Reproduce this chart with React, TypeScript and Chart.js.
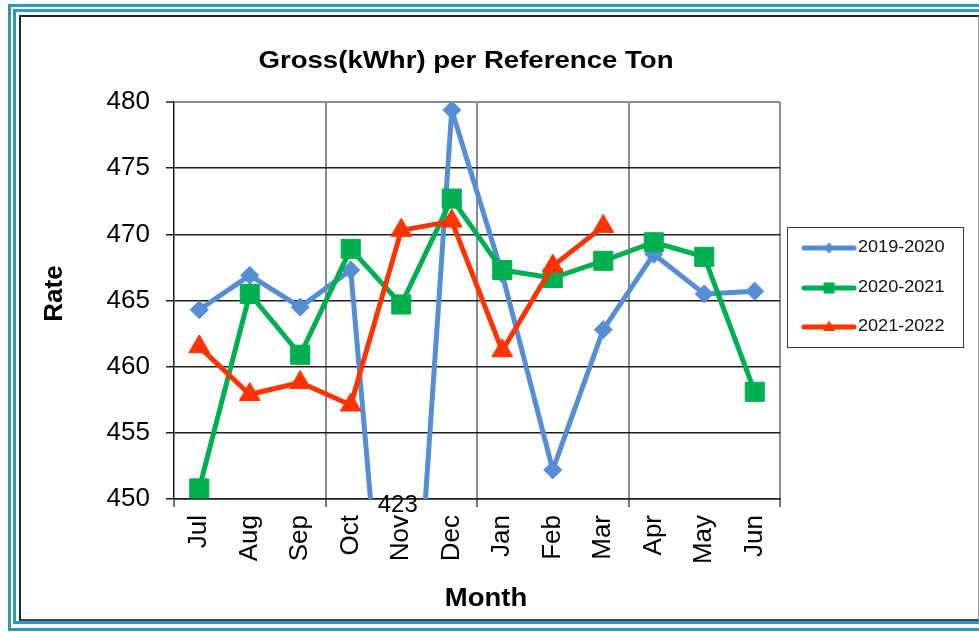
import React, { useEffect, useRef } from 'react';
import { Chart, registerables } from 'chart.js';

Chart.register(...registerables);

// ---------- data ----------
const months = ['Jul', 'Aug', 'Sep', 'Oct', 'Nov', 'Dec', 'Jan', 'Feb', 'Mar', 'Apr', 'May', 'Jun'];
const series2019 = [464.3, 466.9, 464.5, 467.3, 423, 479.4, 467.0, 452.2, 462.8, 468.5, 465.5, 465.7];
const series2020 = [450.8, 465.5, 460.9, 468.9, 464.7, 472.7, 467.3, 466.7, 468.0, 469.4, 468.3, 458.1];
const series2021 = [461.5, 457.9, 458.8, 457.1, 470.3, 471.0, 461.2, 467.6, 470.6, null, null, null];
const seriesNames = ['2019-2020', '2020-2021', '2021-2022'];
const yTicks = [450, 455, 460, 465, 470, 475, 480];
const chartTitle = 'Gross(kWhr) per Reference Ton';
const xTitle = 'Month';
const yTitle = 'Rate';

// ---------- styles ----------
const FONT = "'Liberation Sans', Arial, Helvetica, sans-serif";
const BLUE = '#558ED5';
const GREEN = '#00B050';
const RED = '#FF3300';
const TEAL = '#3097B8';
const DARK = '#1e1e1e';
const GRAY = '#8c8c8c';

const colors = [BLUE, GREEN, RED];
const styles = ['rectRot', 'rect', 'triangle'];

function drawText(ctx: CanvasRenderingContext2D, text: string, x: number, y: number, font: string,
  align: CanvasTextAlign, baseline: CanvasTextBaseline, sx = 1, rot = 0, color = '#000') {
  ctx.save();
  ctx.translate(x, y);
  if (rot) ctx.rotate(rot);
  ctx.scale(sx, 1);
  ctx.font = font;
  ctx.fillStyle = color;
  ctx.textAlign = align;
  ctx.textBaseline = baseline;
  ctx.fillText(text, 0, 0);
  ctx.restore();
}

function drawMarker(ctx: CanvasRenderingContext2D, style: string, x: number, y: number, color: string) {
  ctx.save();
  ctx.fillStyle = color;
  ctx.beginPath();
  if (style === 'rectRot') {
    ctx.moveTo(x - 5, y);
    ctx.lineTo(x, y - 5.5);
    ctx.lineTo(x + 5, y);
    ctx.lineTo(x, y + 5.5);
  } else if (style === 'rect') {
    ctx.rect(x - 5.5, y - 5.5, 11, 11);
  } else {
    ctx.moveTo(x, y - 6.5);
    ctx.lineTo(x + 6, y + 4);
    ctx.lineTo(x - 6, y + 4);
  }
  ctx.closePath();
  ctx.fill();
  ctx.restore();
}

const overlayPlugin = {
  id: 'overlay',
  afterDraw(chart: any) {
    const ctx: CanvasRenderingContext2D = chart.ctx;
    const ca = chart.chartArea;
    const xs = chart.scales.x;
    const midX = (ca.left + ca.right) / 2;
    const midY = (ca.top + ca.bottom) / 2;

    // title
    drawText(ctx, chartTitle, midX - 11, ca.top - 34, `bold 24px ${FONT}`, 'center', 'alphabetic', 1.15);
    // axis titles
    drawText(ctx, xTitle, midX + 9, ca.bottom + 107, `bold 25px ${FONT}`, 'center', 'alphabetic', 1.1);
    drawText(ctx, yTitle, ca.left - 112, midY - 7, `bold 26px ${FONT}`, 'center', 'alphabetic', 1, -Math.PI / 2);

    // data label for the off-scale value
    const yMin = chart.scales.y.min;
    series2019.forEach((v, i) => {
      if (v !== null && v < yMin) {
        drawText(ctx, String(v), xs.getPixelForValue(i) - 3.5, ca.bottom + 13, `24px ${FONT}`, 'center', 'alphabetic');
      }
    });

    // legend
    const lx = ca.right + 7;
    const ly = ca.top + 125;
    const lw = 176;
    const lh = 120;
    ctx.save();
    ctx.strokeStyle = '#3a3a3a';
    ctx.lineWidth = 1;
    ctx.strokeRect(lx + 0.5, ly + 0.5, lw, lh);
    ctx.restore();
    const rows = [21, 61, 100];
    seriesNames.forEach((name, i) => {
      const ry = ly + rows[i];
      ctx.save();
      ctx.strokeStyle = colors[i];
      ctx.lineWidth = 5;
      ctx.lineCap = 'round';
      ctx.beginPath();
      ctx.moveTo(lx + 17, ry);
      ctx.lineTo(lx + 67, ry);
      ctx.stroke();
      ctx.restore();
      drawMarker(ctx, styles[i], lx + 42, ry, colors[i]);
      drawText(ctx, name, lx + 71, ry, `16px ${FONT}`, 'left', 'middle', 1.13, 0, '#111');
    });
  },
};

export default function App() {
  const ref = useRef<HTMLCanvasElement>(null);

  useEffect(() => {
    const isMajor = (c: any) => c.index === undefined || c.index % 3 === 0;
    const chart = new Chart(ref.current as HTMLCanvasElement, {
      type: 'line',
      data: {
        labels: months,
        datasets: [
          {
            label: seriesNames[0], data: series2019, borderColor: BLUE, backgroundColor: BLUE,
            borderWidth: 5, pointStyle: 'rectRot', pointRadius: 9, pointBorderWidth: 1,
            pointBorderColor: BLUE, pointBackgroundColor: BLUE, order: 3, clip: 0,
            borderJoinStyle: 'round', tension: 0,
          },
          {
            label: seriesNames[1], data: series2020, borderColor: GREEN, backgroundColor: GREEN,
            borderWidth: 5, pointStyle: 'rect', pointRadius: 13.5, pointBorderWidth: 1,
            pointBorderColor: GREEN, pointBackgroundColor: GREEN, order: 2, clip: 0,
            borderJoinStyle: 'round', tension: 0,
          },
          {
            label: seriesNames[2], data: series2021, borderColor: RED, backgroundColor: RED,
            borderWidth: 5, pointStyle: 'triangle', pointRadius: 12, pointBorderWidth: 1,
            pointBorderColor: RED, pointBackgroundColor: RED, order: 1, clip: 0,
            borderJoinStyle: 'round', tension: 0, spanGaps: false,
          },
        ] as any,
      },
      options: {
        responsive: false,
        devicePixelRatio: 1,
        animation: false,
        events: [],
        layout: { padding: { top: 102, right: 199, left: 0, bottom: 0 } },
        plugins: {
          legend: { display: false },
          title: { display: false },
          tooltip: { enabled: false },
        },
        scales: {
          x: {
            type: 'category',
            offset: true,
            grid: {
              offset: true,
              drawTicks: true,
              tickLength: 8,
              lineWidth: 2,
              tickWidth: 1.5,
              color: (c: any) => (isMajor(c) && c.index !== 0 ? GRAY : 'rgba(0,0,0,0)'),
              tickColor: (c: any) => (isMajor(c) ? '#444' : 'rgba(0,0,0,0)'),
            },
            border: { display: true, color: DARK, width: 1.5 },
            ticks: {
              autoSkip: false,
              minRotation: 90,
              maxRotation: 90,
              padding: 8,
              color: '#000',
              font: { family: FONT, size: 26 },
            },
            afterFit: (s: any) => { s.height = 133; },
          },
          y: {
            min: yTicks[0],
            max: yTicks[yTicks.length - 1],
            afterBuildTicks: (s: any) => { s.ticks = yTicks.map((v) => ({ value: v })); },
            grid: {
              drawTicks: true,
              tickLength: 8,
              lineWidth: (c: any) => (c.tick && c.tick.value === yTicks[yTicks.length - 1] ? 2 : 1.5),
              color: (c: any) => (c.tick && c.tick.value === yTicks[yTicks.length - 1] ? GRAY : DARK),
              tickColor: DARK,
              tickWidth: 1.5,
            },
            border: { display: true, color: DARK, width: 1.5 },
            ticks: {
              padding: 16,
              color: '#000',
              font: { family: FONT, size: 26 },
            },
            afterFit: (s: any) => { s.width = 174; },
          },
        },
      } as any,
      plugins: [overlayPlugin],
    });
    return () => chart.destroy();
  }, []);

  return (
    <div style={{ position: 'fixed', left: 0, top: 0, width: 979, height: 632, overflow: 'hidden', background: '#fff' }}>
      <div style={{ position: 'absolute', left: 8, top: 4, width: 1000, height: 627, boxSizing: 'border-box', border: `3px solid ${TEAL}` }} />
      <div style={{ position: 'absolute', left: 13, top: 9, width: 1000, height: 615, boxSizing: 'border-box', border: `3px solid ${TEAL}` }} />
      <div style={{ position: 'absolute', left: 19, top: 15, width: 960, height: 606, boxSizing: 'border-box', borderLeft: '2px solid #222', borderTop: '2px solid #222', borderRight: '1px solid #999', borderBottom: '2px solid #444' }} />
      <canvas ref={ref} width={979} height={632} style={{ position: 'absolute', left: 0, top: 0, width: 979, height: 632 }} />
    </div>
  );
}
